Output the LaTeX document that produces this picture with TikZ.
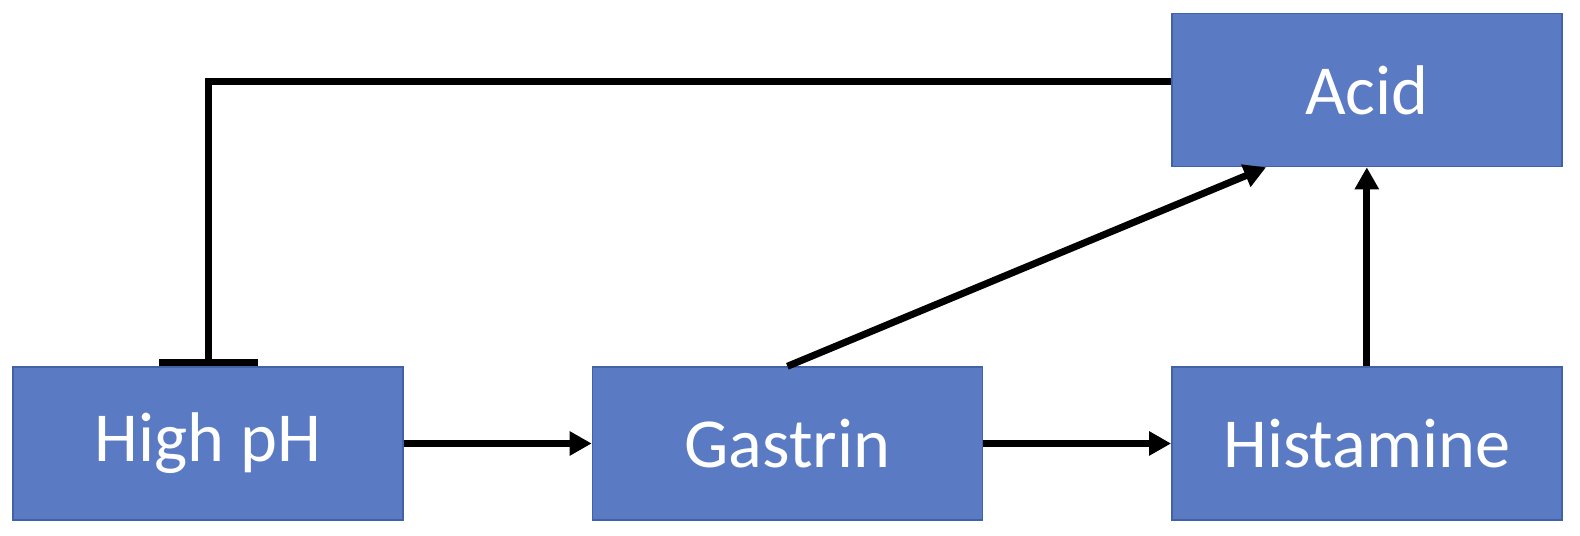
\documentclass[tikz,border=0pt]{standalone}
\usepackage{fontspec}
\setmainfont{Carlito}
\usepackage{tikz}
\usetikzlibrary{arrows.meta,positioning}
\definecolor{boxblue}{RGB}{90,123,196}
\definecolor{boxedge}{RGB}{66,98,168}
\tikzset
{
    blockbox/.style = {rectangle, draw=boxedge, line width=0.8pt, fill=boxblue, text=white, align=center, minimum width=7.8cm, minimum height=3.06cm, font=\fontsize{40}{48}\selectfont},
    excite/.style   = {line width=0.14cm, -{Triangle[length=0.44cm, width=0.46cm]}},
    inhibit/.style  = {line width=0.14cm, -{Bar[width=1.98cm]}}
}

\begin{document}
\begin{tikzpicture}
	\useasboundingbox (0,0) rectangle (31.6,10.72);
	\node[blockbox] (highph) at (4.16,1.85) {High pH};
	\node[blockbox, right=3.76cm of highph] (gastrin) {Gastrin};
	\node[blockbox, right=3.76cm of gastrin] (histamine) {Histamine};
	\node[blockbox, above=3.98cm of histamine] (acid) {Acid};

	\draw[excite] (highph.east) -- (gastrin.west);
	\draw[excite] (gastrin.east) -- (histamine.west);
	\draw[excite] (histamine.north) -- (acid.south);
	\draw[excite] (gastrin.north) -- ([xshift=1.9cm]acid.south west);
	\draw[inhibit] ([yshift=0.18cm]acid.west) -| (highph.north);
\end{tikzpicture}
\end{document}
